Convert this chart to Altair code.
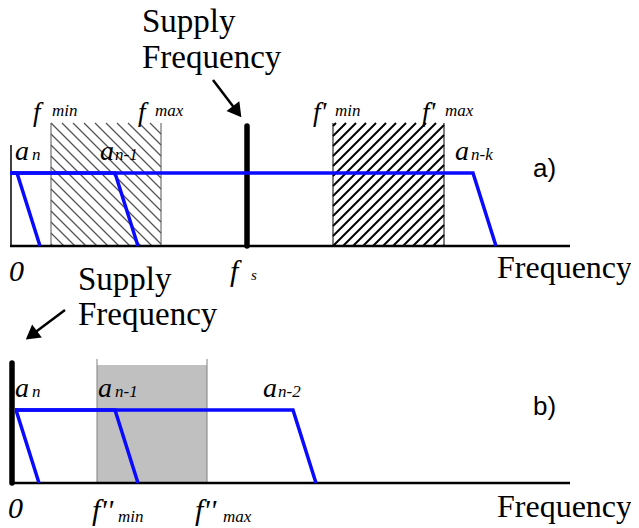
import math
import altair as alt
import pandas as pd

# ---------------- layout of the drawing (data units: frequency / level) ----
W, H = 623, 519
X_DOMAIN = [-3, 620]
Y_DOMAIN = [-44, 475]
PANEL_BASE = {"a": 237, "b": 0}      # vertical offset of each panel's baseline
SERIF = "Liberation Serif"
SANS = "Liberation Sans"

# ---------------- data ----------------
AXIS_START = -1
AXIS_END = 559

# spectral components (flat top, then roll-off)
COMP_PANEL = ["a", "a", "a", "b", "b", "b"]
COMP_NAME = ["a_n", "a_n-1", "a_n-k", "b_n", "b_n-1", "b_n-2"]
COMP_START = [-1, -1, -1, 4, 4, 4]
COMP_CUTOFF = [6, 104, 462, 5, 104, 282]
COMP_LEVEL = [73, 73, 73, 73, 73, 73]
ROLL_OFF = 23

# supply frequency lines
SUPPLY_PANEL = ["a", "b"]
SUPPLY_FREQ = [236, 1]
SUPPLY_TOP = [120, 120]

# bands
BAND_A1 = [40, 150]      # f_min, f_max
BAND_A2 = [322, 433]     # f'_min, f'_max
BAND_A_TOP = 123
BAND_B = [86, 196]       # f''_min, f''_max
BAND_B_FILL_TOP = 118
BAND_B_LINE_TOP = 124

# arrows: start and tip (frequency, level)
ARROW_START_F = [202, 54]
ARROW_START_L = [403, 173]
ARROW_TIP_F = [231, 14]
ARROW_TIP_L = [365, 143]

# text annotations
TITLE_TEXT = ["Supply", "Frequency", "Frequency", "Supply", "Frequency", "Frequency"]
TITLE_F = [131, 131, 486, 67, 67, 486]
TITLE_L = [451, 415, 205, 193, 158, -34]
TITLE_SIZE = [33, 33, 32, 33, 33, 32]

ITAL_TEXT = ["f", "f", "f'", "f'", "a", "a", "a", "a", "a", "a",
             "0", "f", "0", "f''", "f''",
             "min", "max", "min", "max", "n", "n-1", "n-k", "n", "n-1", "n-2",
             "min", "max", "s"]
ITAL_F = [22, 127, 302, 411, 4, 89, 444, 4, 87, 252,
          -2, 219, -3, 81, 184,
          41, 144, 324, 434, 21, 104, 460, 21, 104, 267,
          107, 212, 240]
ITAL_L = [362, 362, 362, 362, 323, 323, 323, 86, 86, 86,
          202, 202, -35, -37, -37,
          367, 367, 367, 367, 323, 323, 323, 86, 86, 86,
          -39, -39, 203]
ITAL_SIZE = [27, 27, 27, 27, 28, 28, 28, 28, 28, 28,
             30, 30, 30, 30, 30,
             17, 17, 17, 17, 17, 17, 17, 17, 17, 17,
             17, 17, 15]

PANEL_TEXT = ["a)", "b)"]
PANEL_F = [522, 522]
PANEL_L = [306, 68]

# ---------------- build tables ----------------
xs = alt.Scale(domain=X_DOMAIN, nice=False, zero=False)
ys = alt.Scale(domain=Y_DOMAIN, nice=False, zero=False)

def X(f="x"):
    return alt.X(f"{f}:Q", scale=xs, axis=None)

def Y(f="y"):
    return alt.Y(f"{f}:Q", scale=ys, axis=None)

rows = []
for p, n, s, c, lv in zip(COMP_PANEL, COMP_NAME, COMP_START, COMP_CUTOFF, COMP_LEVEL):
    b = PANEL_BASE[p]
    rows += [dict(comp=n, o=0, x=s, y=b + lv),
             dict(comp=n, o=1, x=c, y=b + lv),
             dict(comp=n, o=2, x=c + ROLL_OFF, y=b)]
spec_df = pd.DataFrame(rows)

axis_rows = []
for p in ["a", "b"]:
    b = PANEL_BASE[p]
    axis_rows.append(dict(x=AXIS_START, x2=AXIS_END, y=b, y2=b, w=2.5))
axis_rows.append(dict(x=0, x2=0, y=PANEL_BASE["a"], y2=PANEL_BASE["a"] + 101, w=1.5))
axis_df = pd.DataFrame(axis_rows)

supply_df = pd.DataFrame([
    dict(x=f, x2=f, y=PANEL_BASE[p], y2=PANEL_BASE[p] + t)
    for p, f, t in zip(SUPPLY_PANEL, SUPPLY_FREQ, SUPPLY_TOP)
])

def hatch(x0, x1, y0, y1, step, direction):
    h = y1 - y0
    segs = []
    c = x0 - step * math.ceil(h / step)
    while c < x1:
        xa, xb = max(x0, c), min(x1, c + h)
        if xb > xa:
            if direction == "back":
                segs.append(dict(x=xa, y=y1 - (xa - c), x2=xb, y2=y1 - (xb - c)))
            else:
                segs.append(dict(x=xa, y=y0 + (xa - c), x2=xb, y2=y0 + (xb - c)))
        c += step
    return pd.DataFrame(segs)

ba = PANEL_BASE["a"]
hatch1 = hatch(BAND_A1[0], BAND_A1[1], ba, ba + BAND_A_TOP, 11, "back")
hatch2 = hatch(BAND_A2[0], BAND_A2[1], ba, ba + BAND_A_TOP, 10, "fwd")

border1 = pd.DataFrame([dict(x=f, x2=f, y=ba, y2=ba + BAND_A_TOP) for f in BAND_A1])
border2 = pd.DataFrame([dict(x=f, x2=f, y=ba, y2=ba + BAND_A_TOP) for f in BAND_A2])
bb = PANEL_BASE["b"]
grey_df = pd.DataFrame([dict(x=BAND_B[0], x2=BAND_B[1], y=bb, y2=bb + BAND_B_FILL_TOP)])
border3 = pd.DataFrame([dict(x=f, x2=f, y=bb, y2=bb + BAND_B_LINE_TOP) for f in BAND_B])

HEAD = 8.0
arrow_lines, arrow_heads = [], []
for sf, sl, tf, tl in zip(ARROW_START_F, ARROW_START_L, ARROW_TIP_F, ARROW_TIP_L):
    dx, dy = tf - sf, tl - sl
    d = math.hypot(dx, dy)
    ux, uy = dx / d, dy / d
    arrow_lines.append(dict(x=sf, y=sl, x2=tf - 1.5 * HEAD * ux, y2=tl - 1.5 * HEAD * uy))
    ang = math.degrees(math.atan2(dx, dy)) % 360
    arrow_heads.append(dict(x=tf - HEAD * ux, y=tl - HEAD * uy, ang=ang))
arrow_line_df = pd.DataFrame(arrow_lines)
arrow_head_df = pd.DataFrame(arrow_heads)

title_df = pd.DataFrame(dict(t=TITLE_TEXT, x=TITLE_F, y=TITLE_L, s=TITLE_SIZE))
ital_df = pd.DataFrame(dict(t=ITAL_TEXT, x=ITAL_F, y=ITAL_L, s=ITAL_SIZE))
panel_df = pd.DataFrame(dict(t=PANEL_TEXT, x=PANEL_F, y=PANEL_L))

# ---------------- marks ----------------
def seg_layer(df, color, width, cap="butt"):
    return alt.Chart(df).mark_rule(color=color, strokeWidth=width, strokeCap=cap).encode(
        x=X(), y=Y(), x2="x2:Q", y2="y2:Q")

grey = alt.Chart(grey_df).mark_rect(color="#c0c0c0").encode(x=X(), x2="x2:Q", y=Y(), y2="y2:Q")

axes = alt.Chart(axis_df).mark_rule(color="black").encode(
    x=X(), y=Y(), x2="x2:Q", y2="y2:Q", size=alt.Size("w:Q", scale=None, legend=None))

supply = seg_layer(supply_df, "black", 5.5, "round")

spec = alt.Chart(spec_df).mark_line(color="#0a0aff", strokeWidth=3.5, strokeJoin="miter").encode(
    x=X(), y=Y(), detail="comp:N", order="o:Q")

arrow_l = seg_layer(arrow_line_df, "black", 2.5)
arrow_h = alt.Chart(arrow_head_df).mark_point(
    shape="triangle-up", filled=True, color="black", opacity=1, size=260
).encode(x=X(), y=Y(), angle=alt.Angle("ang:Q", scale=None))

titles = alt.Chart(title_df).mark_text(
    font=SERIF, align="left", baseline="alphabetic", color="black"
).encode(x=X(), y=Y(), text="t:N", size=alt.Size("s:Q", scale=None, legend=None))

itals = alt.Chart(ital_df).mark_text(
    font=SERIF, fontStyle="italic", align="left", baseline="alphabetic", color="black"
).encode(x=X(), y=Y(), text="t:N", size=alt.Size("s:Q", scale=None, legend=None))

panels = alt.Chart(panel_df).mark_text(
    font=SANS, fontSize=26, align="left", baseline="alphabetic", color="black"
).encode(x=X(), y=Y(), text="t:N")

chart = alt.layer(
    grey,
    seg_layer(hatch1, "#555555", 1.3),
    seg_layer(hatch2, "black", 2),
    seg_layer(border1, "#555555", 1),
    seg_layer(border2, "black", 1),
    seg_layer(border3, "#808080", 1),
    axes,
    supply,
    spec,
    arrow_l,
    arrow_h,
    titles,
    itals,
    panels,
).properties(
    width=W, height=H, padding=0,
    autosize=alt.AutoSizeParams(type="none"),
).configure_view(stroke=None)

chart.save("out.html", embed_options={"renderer": "svg", "actions": False})
